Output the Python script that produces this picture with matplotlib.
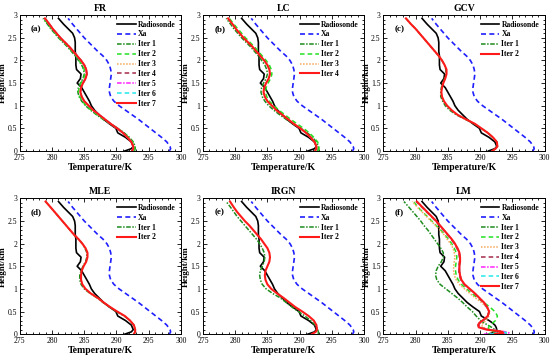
import matplotlib
matplotlib.use('Agg')
import matplotlib.pyplot as plt
from matplotlib.ticker import MultipleLocator

plt.rcParams['font.family'] = ['Liberation Serif', 'DejaVu Serif']

# heights (km) shared by the panels a-e
h = [0, 0.05, 0.1, 0.2, 0.3, 0.4, 0.5, 0.6, 0.7, 0.8, 0.9, 1.0, 1.1, 1.2, 1.3, 1.4, 1.5,
     1.6, 1.7, 1.8, 1.9, 2.0, 2.1, 2.2, 2.3, 2.4, 2.5, 2.6, 2.7, 2.8, 2.93]

radiosonde = [291.3, 292.3, 292.6, 292.3, 291.4, 290.2, 289.9, 288.9, 288.0, 287.3, 286.6, 286.1,
              285.8, 285.4, 285.0, 284.6, 283.9, 284.4, 284.5, 283.8, 283.7, 283.7, 283.7, 283.6,
              283.6, 283.6, 283.5, 283.2, 282.5, 281.8, 281.0]
xa = [298.2, 298.4, 298.3, 297.8, 297.0, 296.1, 295.2, 294.3, 293.4, 292.4, 291.4, 290.4, 289.6,
      289.1, 288.9, 288.9, 289.0, 289.1, 289.2, 289.1, 288.9, 288.5, 287.9, 287.1, 286.4, 285.7,
      285.0, 284.4, 283.8, 283.2, 282.5]

fr_iter1 = [292.8, 292.9, 292.9, 292.6, 292.0, 291.2, 290.2, 289.0, 287.9, 286.9, 286.0, 285.2,
            284.6, 284.2, 284.0, 284.1, 284.4, 284.8, 285.0, 284.9, 284.6, 284.1, 283.6, 283.0,
            282.4, 281.7, 281.0, 280.4, 279.8, 279.3, 278.6]
fr_iter2 = [292.7, 292.8, 292.8, 292.5, 291.9, 291.1, 290.2, 289.1, 288.0, 287.0, 286.1, 285.3,
            284.7, 284.3, 284.1, 284.2, 284.5, 284.9, 285.1, 285.0, 284.7, 284.2, 283.7, 283.1,
            282.5, 281.8, 281.1, 280.5, 279.9, 279.4, 278.7]
fr_iter7 = [292.4, 292.6, 292.6, 292.3, 291.7, 291.0, 290.1, 289.1, 288.2, 287.3, 286.4, 285.7,
            285.0, 284.6, 284.4, 284.5, 284.8, 285.2, 285.4, 285.3, 285.0, 284.5, 283.9, 283.3,
            282.7, 282.0, 281.3, 280.7, 280.1, 279.6, 278.9]

lc_iter1 = fr_iter1
lc_iter2 = [292.9, 293.0, 293.0, 292.8, 292.2, 291.5, 290.6, 289.6, 288.6, 287.7, 286.8, 286.0,
            285.3, 284.9, 284.7, 284.8, 285.1, 285.5, 285.7, 285.6, 285.3, 284.8, 284.2, 283.6,
            283.0, 282.3, 281.6, 281.0, 280.4, 279.8, 279.1]
lc_iter4 = fr_iter7

gcv_iter1 = [291.9, 292.4, 292.7, 292.6, 292.0, 291.2, 290.2, 289.1, 287.7, 286.3, 285.3, 284.6,
             284.2, 283.9, 283.9, 284.0, 284.2, 284.5, 284.7, 284.7, 284.5, 284.1, 283.6, 283.0,
             282.4, 281.8, 281.2, 280.6, 280.0, 279.3, 278.5]
gcv_iter2 = [291.9, 292.4, 292.7, 292.6, 292.0, 291.2, 290.2, 289.2, 287.8, 286.5, 285.6, 284.9,
             284.4, 284.1, 284.0, 284.1, 284.3, 284.6, 284.8, 284.8, 284.5, 284.1, 283.6, 283.0,
             282.4, 281.8, 281.2, 280.6, 280.0, 279.3, 278.5]

mle_iter1 = [292.7, 292.9, 292.9, 292.7, 292.1, 291.2, 290.0, 288.9, 287.9, 287.0, 285.9, 285.0,
             284.5, 284.3, 284.3, 284.5, 284.8, 285.2, 285.4, 285.4, 285.1, 284.7, 284.1, 283.4,
             282.8, 282.2, 281.6, 281.0, 280.4, 279.8, 279.0]
mle_iter2 = [292.7, 292.9, 292.9, 292.7, 292.1, 291.3, 290.1, 289.0, 288.0, 287.1, 286.0, 285.2,
             284.7, 284.5, 284.5, 284.6, 284.9, 285.3, 285.5, 285.5, 285.2, 284.7, 284.1, 283.4,
             282.8, 282.2, 281.6, 281.0, 280.4, 279.8, 279.0]

irgn_iter1 = [292.9, 292.9, 292.8, 292.4, 291.7, 290.8, 289.8, 288.8, 287.9, 287.0, 285.8, 284.8,
              284.2, 283.9, 283.8, 283.9, 284.2, 284.5, 284.6, 284.5, 284.2, 283.8, 283.3, 282.7,
              282.1, 281.5, 280.9, 280.3, 279.8, 279.3, 278.6]
irgn_iter2 = [291.9, 292.5, 292.7, 292.6, 292.2, 291.4, 290.4, 289.3, 288.4, 287.5, 286.5, 285.6,
              285.0, 284.7, 284.6, 284.7, 285.0, 285.3, 285.4, 285.3, 285.0, 284.5, 284.0, 283.4,
              282.8, 282.2, 281.5, 280.9, 280.3, 279.8, 279.2]

# LM panel uses a finer grid near the ground
h_lm = [0, 0.03, 0.06, 0.1, 0.15, 0.2, 0.25, 0.3, 0.4, 0.5, 0.6, 0.7, 0.8, 0.9, 1.0, 1.1, 1.2,
        1.3, 1.4, 1.5, 1.6, 1.7, 1.8, 1.9, 2.0, 2.1, 2.2, 2.3, 2.4, 2.5, 2.6, 2.7, 2.8, 2.93]
radiosonde_lm = [291.3, 292.0, 292.4, 292.6, 292.5, 292.3, 291.9, 291.4, 290.2, 289.9, 288.9,
                 288.0, 287.3, 286.6, 286.1, 285.8, 285.4, 285.0, 284.6, 283.9, 284.4, 284.5,
                 283.8, 283.7, 283.7, 283.7, 283.6, 283.6, 283.6, 283.5, 283.2, 282.5, 281.8, 281.0]
xa_lm = [298.2, 298.4, 298.4, 298.3, 298.1, 297.8, 297.4, 297.0, 296.1, 295.2, 294.3, 293.4,
         292.4, 291.4, 290.4, 289.6, 289.1, 288.9, 288.9, 289.0, 289.1, 289.2, 289.1, 288.9,
         288.5, 287.9, 287.1, 286.4, 285.7, 285.0, 284.4, 283.8, 283.2, 282.5]
lm_iter1 = [292.6, 292.7, 292.6, 292.3, 291.8, 291.2, 290.6, 290.1, 289.4, 288.8, 288.0, 287.3,
            286.5, 285.6, 284.7, 283.8, 283.3, 283.1, 283.2, 283.5, 284.0, 284.3, 284.3, 283.9,
            283.4, 282.9, 282.4, 281.9, 281.3, 280.8, 280.2, 279.6, 279.0, 278.2]
lm_iter2 = [291.0, 292.3, 292.0, 291.4, 291.3, 291.6, 292.0, 292.4, 292.7, 292.3, 291.5, 290.6,
            289.6, 288.7, 287.9, 287.1, 286.6, 286.3, 286.2, 286.2, 286.3, 286.4, 286.3, 286.0,
            285.6, 285.1, 284.5, 283.9, 283.2, 282.5, 281.8, 281.1, 280.4, 279.7]
lm_iter3 = [292.5, 294.2, 293.5, 291.5, 290.5, 290.2, 290.5, 290.9, 291.4, 291.5, 291.0, 290.2,
            289.3, 288.4, 287.6, 286.8, 286.3, 286.0, 285.9, 285.9, 286.0, 286.1, 286.0, 285.8,
            285.4, 284.9, 284.4, 283.8, 283.1, 282.4, 281.7, 281.0, 280.3, 279.5]
lm_iter4 = [292.0, 293.8, 293.3, 291.2, 290.0, 289.8, 290.0, 290.5, 291.2, 291.4, 291.0, 290.5,
            289.8, 289.1, 288.3, 287.5, 287.0, 286.8, 286.7, 286.7, 286.8, 286.8, 286.7, 286.4,
            286.0, 285.5, 284.9, 284.3, 283.7, 283.1, 282.4, 281.7, 281.0, 280.1]
lm_iter5 = [290.6, 294.5, 293.6, 291.1, 289.9, 289.7, 289.9, 290.4, 291.2, 291.4, 291.1, 290.6,
            289.9, 289.2, 288.4, 287.6, 287.1, 286.9, 286.8, 286.8, 286.9, 286.9, 286.8, 286.5,
            286.1, 285.6, 285.0, 284.4, 283.8, 283.2, 282.5, 281.8, 281.1, 280.2]
lm_iter6 = [291.5, 294.1, 293.4, 291.0, 289.8, 289.7, 289.9, 290.4, 291.2, 291.4, 291.1, 290.6,
            289.9, 289.2, 288.4, 287.6, 287.1, 286.9, 286.8, 286.8, 286.9, 286.9, 286.8, 286.5,
            286.1, 285.6, 285.0, 284.4, 283.8, 283.2, 282.5, 281.8, 281.1, 280.2]
lm_iter7 = [292.3, 293.6, 293.2, 291.0, 289.8, 289.7, 289.9, 290.4, 291.2, 291.4, 291.1, 290.6,
            289.9, 289.2, 288.4, 287.6, 287.1, 286.9, 286.8, 286.8, 286.9, 286.9, 286.8, 286.5,
            286.1, 285.6, 285.0, 284.4, 283.8, 283.2, 282.5, 281.8, 281.1, 280.2]

titles = ['FR', 'LC', 'GCV', 'MLE', 'IRGN', 'LM']
tags = ['(a)', '(b)', '(c)', '(d)', '(e)', '(f)']

# iteration line styles
iter_styles = {
    1: dict(color='#1e8c1e', linestyle=(0, (3, 1, 1, 1)), linewidth=1.1),
    2: dict(color='#22e022', linestyle=(0, (3, 2)), linewidth=1.1),
    3: dict(color='#f5a95a', linestyle=(0, (1, 1)), linewidth=1.1),
    4: dict(color='#a52a4a', linestyle=(0, (3, 2)), linewidth=1.1),
    5: dict(color='#ff22ff', linestyle=(0, (3, 1, 1, 1)), linewidth=1.1),
    6: dict(color='#22e8e8', linestyle=(0, (3, 2)), linewidth=1.1),
}

panels = [
    (h, radiosonde, xa, [fr_iter1, fr_iter2, fr_iter7, fr_iter7, fr_iter7, fr_iter7, fr_iter7]),
    (h, radiosonde, xa, [lc_iter1, lc_iter2, lc_iter4, lc_iter4]),
    (h, radiosonde, xa, [gcv_iter1, gcv_iter2]),
    (h, radiosonde, xa, [mle_iter1, mle_iter2]),
    (h, radiosonde, xa, [irgn_iter1, irgn_iter2]),
    (h_lm, radiosonde_lm, xa_lm, [lm_iter1, lm_iter2, lm_iter3, lm_iter4, lm_iter5, lm_iter6, lm_iter7]),
]

fig = plt.figure(figsize=(5.5, 3.62), dpi=100)
lefts = [0.036, 0.369, 0.697]
bottoms = [0.583, 0.077]
w, ht = 0.293, 0.375

for k in range(6):
    ax = fig.add_axes([lefts[k % 3], bottoms[k // 3], w, ht])
    hh, rs, a, iters = panels[k]
    ax.plot(rs, hh, color='black', linewidth=1.2, label='Radiosonde')
    ax.plot(a, hh, color='#1f1fff', linestyle=(0, (3, 2)), linewidth=1.2, label='Xa')
    n = len(iters)
    for i, y in enumerate(iters):
        if i == n - 1:
            ax.plot(y, hh, color='#ff1a1a', linewidth=1.5, label='Iter %d' % (i + 1))
        else:
            ax.plot(y, hh, label='Iter %d' % (i + 1), **iter_styles[i + 1])
    ax.set_xlim(275, 300)
    ax.set_ylim(0, 3)
    ax.set_xticks([275, 280, 285, 290, 295, 300])
    ax.set_yticks([0, 0.5, 1, 1.5, 2, 2.5, 3])
    ax.set_yticklabels(['0', '0.5', '1', '1.5', '2', '2.5', '3'])
    ax.xaxis.set_minor_locator(MultipleLocator(1))
    ax.yaxis.set_minor_locator(MultipleLocator(0.1))
    ax.tick_params(which='both', direction='in', top=True, right=True, labelsize=5.5, pad=2, width=0.6)
    ax.tick_params(which='major', length=3)
    ax.tick_params(which='minor', length=1.5)
    for s in ax.spines.values():
        s.set_linewidth(0.7)
    ax.set_title(titles[k], fontsize=7, fontweight='bold', pad=3)
    ax.set_xlabel('Temperature/K', fontsize=7, fontweight='bold', labelpad=1)
    ax.set_ylabel('Height/km', fontsize=6.5, fontweight='bold', labelpad=0.5)
    ax.text(0.07, 0.93, tags[k], transform=ax.transAxes, fontsize=6.5, fontweight='bold',
            va='top', ha='left')
    ax.legend(loc='upper right', frameon=False, prop={'size': 5.5, 'weight': 'bold'},
              handlelength=2.4, handletextpad=0.3, labelspacing=0.25, borderaxespad=0.3)

plt.savefig('out.png', dpi=100)
